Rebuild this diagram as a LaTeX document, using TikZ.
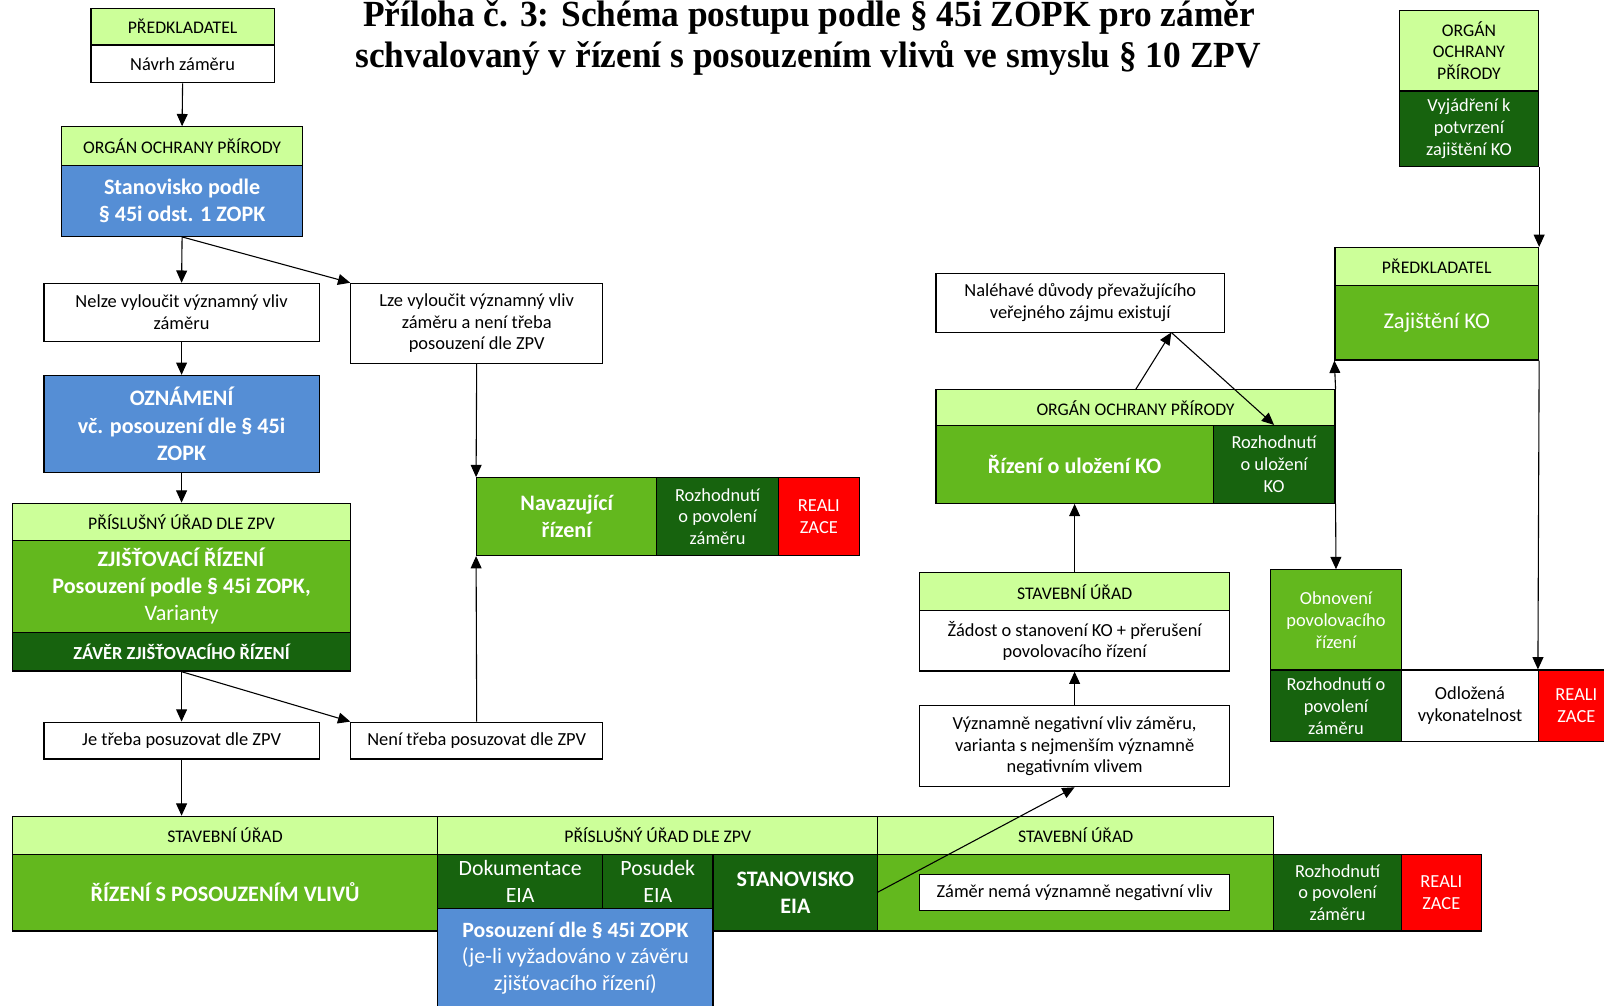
\documentclass[tikz,border=0pt]{standalone}
\usepackage{fontspec}
\setmainfont{Carlito}
\newfontfamily\titlefont[FakeStretch=0.96]{Liberation Serif}
\usetikzlibrary{arrows.meta}
\definecolor{lgreen}{HTML}{CCFF99}
\definecolor{mgreen}{HTML}{63B81E}
\definecolor{dgreen}{HTML}{17630E}
\definecolor{bblue}{HTML}{558ED5}
\definecolor{rred}{HTML}{FF0000}
\newcommand{\bx}[7]{\node[#6, minimum width={(#4-#2)*0.75pt}, minimum height={(#5-#3)*0.75pt}] (#1) at ({(#2+#4)/2},{(#3+#5)/2}) {#7};}
\tikzset{
  box/.style={draw=black, line width=0.9pt, inner sep=0pt, align=center, text=white},
  hdr/.style={box, fill=lgreen, text=black, font=\fontsize{13}{16}\selectfont},
  wht/.style={box, fill=white, text=black, font=\fontsize{13.5}{16}\selectfont},
  grn/.style={box, fill=mgreen, font=\fontsize{13.5}{16}\selectfont},
  dkg/.style={box, fill=dgreen, font=\fontsize{13.5}{16}\selectfont},
  rbox/.style={box, fill=rred, font=\fontsize{13.5}{16}\selectfont},
  blu/.style={box, fill=bblue, font=\bfseries\fontsize{16.2}{20}\selectfont},
  bigb/.style={font=\bfseries\fontsize{16.2}{20}\selectfont},
  bign/.style={font=\fontsize{16}{19.5}\selectfont},
  arr/.style={draw=black, line width=0.8pt, -{Triangle[length=9pt,width=8pt]}},
}
\begin{document}
\begin{tikzpicture}[x=0.75pt,y=-0.75pt]
\useasboundingbox (0,0) rectangle (1568,983);
% title
\node[anchor=base, inner sep=0pt] (t1) at (791,26) {\titlefont\bfseries\fontsize{27}{30}\selectfont Příloha č. 3: Schéma postupu podle § 45i ZOPK pro záměr};
\node[anchor=base, inner sep=0pt] (t2) at (790,66) {\titlefont\bfseries\fontsize{27}{30}\selectfont schvalovaný v řízení s posouzením vlivů ve smyslu § 10 ZPV};
% left column
\bx{pred1}{89}{8}{268}{44}{hdr}{PŘEDKLADATEL}
\bx{navrh}{89}{44}{268}{81}{wht}{Návrh záměru}
\bx{oop1}{60}{124}{296}{162}{hdr}{ORGÁN OCHRANY PŘÍRODY}
\bx{stan}{60}{162}{296}{231}{blu}{Stanovisko podle\\§ 45i odst. 1 ZOPK}
\bx{nelze}{43}{277}{312}{334}{wht}{Nelze vyloučit významný vliv\\záměru}
\bx{lze}{343}{277}{589}{355}{wht}{Lze vyloučit významný vliv\\záměru a není třeba\\posouzení dle ZPV}
\bx{ozn}{43}{367}{312}{462}{blu}{OZNÁMENÍ\\vč. posouzení dle § 45i\\ZOPK}
\bx{pu1}{12}{492}{343}{528}{hdr}{PŘÍSLUŠNÝ ÚŘAD DLE ZPV}
\bx{zj}{12}{528}{343}{618}{grn,font=\fontsize{16.2}{20}\selectfont}{\textbf{ZJIŠŤOVACÍ ŘÍZENÍ}\\\textbf{Posouzení podle § 45i ZOPK,}\\Varianty}
\bx{zav}{12}{618}{343}{656}{dkg,font=\bfseries\fontsize{13.5}{16}\selectfont}{ZÁVĚR ZJIŠŤOVACÍHO ŘÍZENÍ}
\bx{je}{43}{706}{312}{742}{wht}{Je třeba posuzovat dle ZPV}
\bx{neni}{343}{706}{589}{742}{wht}{Není třeba posuzovat dle ZPV}
% navazujici
\bx{nav}{466}{467}{642}{543}{grn,bigb}{Navazující\\řízení}
\bx{roz1}{642}{467}{761}{543}{dkg}{Rozhodnutí\\o povolení\\záměru}
\bx{real1}{761}{467}{840}{543}{rbox}{REALI\\ZACE}
% bottom row
\bx{su1}{12}{798}{428}{835}{hdr}{STAVEBNÍ ÚŘAD}
\bx{rspv}{12}{835}{428}{910}{grn,bigb}{ŘÍZENÍ S POSOUZENÍM VLIVŮ}
\bx{pu2}{428}{798}{858}{835}{hdr}{PŘÍSLUŠNÝ ÚŘAD DLE ZPV}
\bx{dok}{428}{835}{589}{888}{dkg,bign}{Dokumentace\\EIA}
\bx{pos}{589}{835}{697}{888}{dkg,bign}{Posudek\\EIA}
\bx{steia}{697}{835}{858}{910}{dkg,bigb}{STANOVISKO\\EIA}
\bx{blue2}{428}{888}{697}{985}{blu,bign}{\textbf{Posouzení dle § 45i ZOPK}\\(je-li vyžadováno v závěru\\zjišťovacího řízení)}
\bx{su2}{858}{798}{1245}{835}{hdr}{STAVEBNÍ ÚŘAD}
\bx{su2b}{858}{835}{1245}{910}{grn}{}
\bx{nema}{899}{855}{1202}{890}{wht}{Záměr nemá významně negativní vliv}
\bx{roz2}{1245}{835}{1370}{910}{dkg}{Rozhodnutí\\o povolení\\záměru}
\bx{real2}{1370}{835}{1448}{910}{rbox}{REALI\\ZACE}
% middle right
\bx{vyz}{899}{690}{1202}{769}{wht}{Významně negativní vliv záměru,\\varianta s nejmenším významně\\negativním vlivem}
\bx{su3}{899}{560}{1202}{597}{hdr}{STAVEBNÍ ÚŘAD}
\bx{zad}{899}{597}{1202}{656}{wht}{Žádost o stanovení KO + přerušení\\povolovacího řízení}
\bx{oop2}{915}{381}{1305}{416}{hdr}{ORGÁN OCHRANY PŘÍRODY}
\bx{rko}{915}{416}{1186}{492}{grn,bigb}{Řízení o uložení KO}
\bx{rozko}{1186}{416}{1305}{492}{dkg}{Rozhodnutí\\o uložení\\KO}
\bx{nal}{915}{267}{1197}{325}{wht}{Naléhavé důvody převažujícího\\veřejného zájmu existují}
% right column
\bx{oop3}{1368}{10}{1504}{89}{hdr}{ORGÁN\\OCHRANY\\PŘÍRODY}
\bx{vyj}{1368}{89}{1504}{163}{dkg}{Vyjádření k\\potvrzení\\zajištění KO}
\bx{pred2}{1305}{242}{1504}{279}{hdr}{PŘEDKLADATEL}
\bx{zaj}{1305}{279}{1504}{352}{grn,font=\fontsize{16.5}{20}\selectfont}{Zajištění KO}
\bx{obn}{1242}{557}{1370}{655}{grn}{Obnovení\\povolovacího\\řízení}
\bx{roz3}{1242}{655}{1370}{725}{dkg}{Rozhodnutí o\\povolení\\záměru}
\bx{odl}{1370}{655}{1504}{725}{wht}{Odložená\\vykonatelnost}
\bx{real3}{1504}{655}{1578}{725}{rbox}{REALI\\ZACE}
% connectors
\draw[arr] (navrh.south) -- (oop1.north);
\draw[arr] (stan.south) -- (nelze.north);
\draw[arr] (stan.south) -- (lze.north west);
\draw[arr] (nelze.south) -- (ozn.north);
\draw[arr] (ozn.south) -- (pu1.north);
\draw[arr] (zav.south) -- (je.north);
\draw[arr] (zav.south) -- (neni.north west);
\draw[arr] (je.south) -- (je.south |- su1.north);
\draw[arr] (lze.south) -- (nav.north west);
\draw[arr] (neni.north) -- (nav.south west);
\draw[arr] (su2b.west) -- (vyz.south);
\draw[arr] (vyz.north) -- (zad.south);
\draw[arr] (su3.north) -- (rko.south);
\coordinate (nalp) at (1145,325);
\coordinate (oopp) at (1110,381);
\draw[arr] (oopp) -- (nalp);
\draw[arr] (nalp) -- (rozko.north);
\draw[arr] (oop2.north east) -- (zaj.south west);
\draw[arr] (rozko.south east) -- (obn.north);
\draw[arr] (vyj.south east) -- (pred2.north east);
\draw[arr] (zaj.south east) -- (real3.north west);
\end{tikzpicture}
\end{document}
